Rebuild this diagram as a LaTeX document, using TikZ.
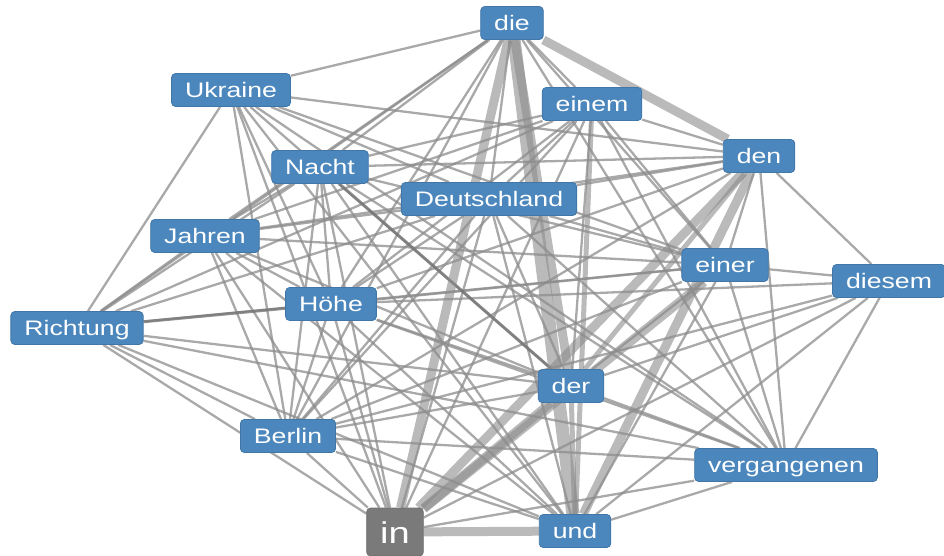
\documentclass[tikz,border=0pt]{standalone}
\usepackage{fontspec}
\newfontfamily\wordfont{Liberation Sans}[FakeStretch=1.27]
\usetikzlibrary{backgrounds}

\definecolor{wordblue}{RGB}{75,135,189}
\definecolor{wordrim}{RGB}{64,118,168}
\definecolor{ingray}{RGB}{122,122,122}

\begin{document}
\begin{tikzpicture}[
    x = 1pt,
    y = -1pt,
    word/.style = {
      draw = wordrim,
      fill = wordblue,
      text = white,
      rounded corners = 4pt,
      line width = 0.8pt,
      inner xsep = 13.5pt,
      inner ysep = 9pt,
      text height = 15pt,
      text depth = 0pt,
      font = \wordfont\fontsize{21}{21}\selectfont
    },
    bigword/.style = {
      word,
      draw = ingray!90!black,
      fill = ingray,
      inner ysep = 13pt,
      text height = 22pt,
      font = \wordfont\fontsize{30}{30}\selectfont
    },
    link/.style = {draw = black!45, opacity = 0.75, line width = 2.3pt},
    darklink/.style = {link, draw = black!55, line width = 3pt},
    midlink/.style = {link, opacity = 0.6, line width = 5pt},
    thicklink/.style = {link, opacity = 0.6, line width = 9pt},
    heavylink/.style = {link, opacity = 0.6, line width = 13pt}
  ]
  \useasboundingbox (0,0) rectangle (944,555);

  \node[word] (die) at (512,23) {die};
  \node[word] (ukr) at (231,90) {Ukraine};
  \node[word] (einem) at (592,104) {einem};
  \node[word] (den) at (759,156) {den};
  \node[word] (nacht) at (320,167) {Nacht};
  \node[word] (dtl) at (489,199) {Deutschland};
  \node[word] (jahren) at (205,236) {Jahren};
  \node[word] (einer) at (725,265) {einer};
  \node[word] (diesem) at (889,281) {diesem};
  \node[word] (hoehe) at (331,304) {Höhe};
  \node[word] (richt) at (77,328) {Richtung};
  \node[word] (der) at (571,386) {der};
  \node[word] (berlin) at (288,436) {Berlin};
  \node[word] (verg) at (786,465) {vergangenen};
  \node[bigword] (win) at (395,532) {in};
  \node[word] (und) at (575,531) {und};

  \begin{scope}[on background layer]
    % thin links
    \foreach \a/\b in {die/ukr, die/einem, die/nacht, die/dtl, die/jahren,
        die/richt, die/hoehe, die/berlin, die/einer, die/verg,
        ukr/den, ukr/richt, ukr/berlin, ukr/hoehe, ukr/win, ukr/und,
        ukr/der, ukr/einer, ukr/verg, ukr/dtl,
        einem/den, einem/nacht, einem/dtl, einem/jahren, einem/richt,
        einem/hoehe, einem/berlin, einem/der, einem/win, einem/einer,
        einem/verg,
        den/nacht, den/dtl, den/jahren, den/hoehe, den/einer, den/diesem,
        den/verg, den/berlin,
        nacht/jahren, nacht/richt, nacht/berlin, nacht/hoehe, nacht/win,
        nacht/und, nacht/verg, nacht/einer,
        dtl/jahren, dtl/richt, dtl/berlin, dtl/der, dtl/win, dtl/und,
        dtl/einer, dtl/verg, dtl/hoehe,
        jahren/richt, jahren/hoehe, jahren/berlin, jahren/der, jahren/win,
        jahren/und, jahren/einer,
        einer/hoehe, einer/richt, einer/der, einer/und, einer/diesem,
        einer/verg, einer/berlin,
        diesem/verg, diesem/der, diesem/und, diesem/win, diesem/hoehe,
        diesem/berlin,
        hoehe/der, hoehe/win, hoehe/und, hoehe/berlin, hoehe/verg,
        richt/der, richt/berlin, richt/win, richt/und, richt/verg,
        der/berlin, der/verg,
        berlin/win, berlin/und, berlin/verg,
        verg/win, verg/und}
      \draw[link] (\a) -- (\b);

    \draw[darklink] (richt) -- (hoehe);
    \draw[darklink] (nacht) -- (der);

    % strong links
    \draw[midlink] (der) -- (und);
    \draw[midlink] (einem) -- (und);
    \draw[midlink] (den) -- (der);
    \draw[thicklink] (die) -- (win);
    \draw[thicklink] (die) -- (der);
    \draw[thicklink] (die) -- (den);
    \draw[thicklink] (win) -- (und);
    \draw[thicklink] (win) -- (der);
    \draw[thicklink] (den) -- (und);
    \draw[thicklink] (den) -- (win);
    \draw[thicklink] (einer) -- (win);
    \draw[heavylink] (die) -- (und);
  \end{scope}

\end{tikzpicture}
\end{document}
